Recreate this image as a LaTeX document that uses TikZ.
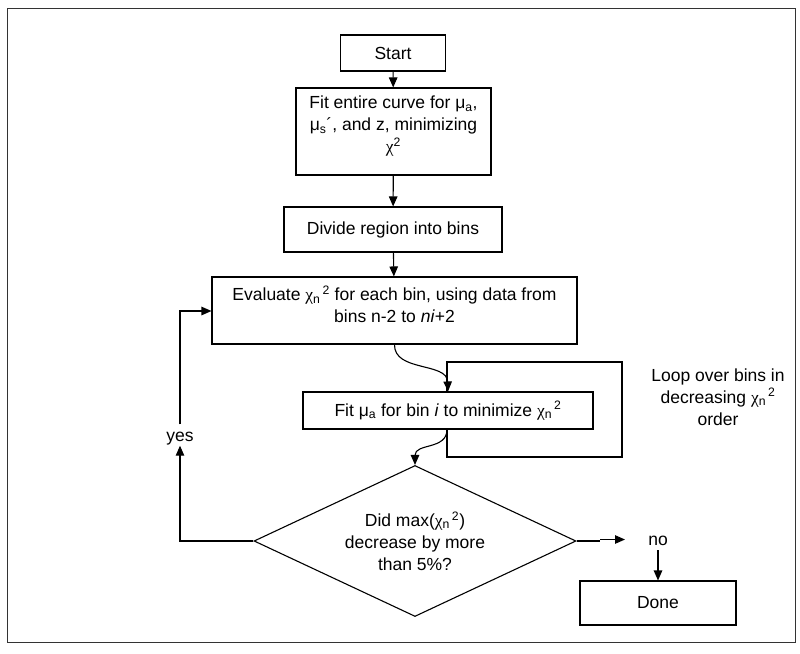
\documentclass[tikz,border=0pt]{standalone}
\usepackage{fontspec}
\setmainfont{Liberation Sans}
\newfontfamily\chifont{Liberation Serif}
\usetikzlibrary{arrows.meta,shapes.geometric}
\newcommand\chisym{{\chifont χ}}
\newcommand\chinsq{\chisym\textsubscript{n}\textsuperscript{\,2}}
\newcommand\mysub[1]{\textsubscript{#1}}
\begin{document}
\begin{tikzpicture}[x=1pt,y=-1pt,
  every node/.style={font=\fontsize{17.5}{22}\selectfont, inner sep=0pt},
  box/.style={draw, line width=1.1pt, align=center},
  conn/.style={line width=1.1pt, -{Triangle[length=10pt,width=8.5pt]}},
  plain/.style={line width=1.1pt}]
\useasboundingbox (0,0) rectangle (800,653);
\draw[line width=1pt, black!80] (7,8) rectangle (795,642);

\node[box, minimum width=105pt, minimum height=36pt] (start) at (393,53) {Start};
\node[box, minimum width=195pt, minimum height=87pt,
  label={[align=center, yshift=5pt]center:Fit entire curve for μ\mysub{a},\\ μ\mysub{s}´, and z, minimizing\\ \chisym\textsuperscript{2}}] (fit) at (393.5,131.5) {};
\node[box, minimum width=218pt, minimum height=45pt] (divide) at (393,229.5) {Divide region into bins};
\node[box, minimum width=365pt, minimum height=67pt,
  label={[align=center, yshift=6pt]center:Evaluate \chinsq{} for each bin, using data from\\ bins n-2 to \emph{ni}+2}] (eval) at (394.5,310.5) {};
\node[box, minimum width=290pt, minimum height=37pt] (fitmu) at (448,410.5) {Fit μ\mysub{a} for bin \emph{i} to minimize \chinsq};
\node[draw, line width=1.1pt, shape=diamond, aspect=2.13, minimum width=322pt, minimum height=151pt, align=center] (dec) at (415,541)
  {Did max(\chinsq)\\ decrease by more\\ than 5\%?};
\node[box, minimum width=156pt, minimum height=44pt] (done) at (658,603) {Done};

\node[align=center] (looplbl) at (718,397) {Loop over bins in\\ decreasing \chinsq\\ order};
\node (yes) at (180,439) {yes};
\node (no) at (658,541) {no};

\draw[conn] (start) -- (fit);
\draw[conn] (fit) -- (divide);
\draw[conn] (divide) -- (eval);
\draw[conn] (eval.south) .. controls (394,372) and (447,362) .. (fitmu.north);
\coordinate (lb) at (447,457);
\coordinate (rb) at (622,457);
\coordinate (rt) at (622,362);
\coordinate (lt) at (447,362);
\draw[plain] (fitmu.south -| lb) -- (lb) -- (rb) -- (rt) -- (lt) -- (fitmu.north -| lt);
\draw[conn] (fitmu.south -| lb) .. controls (447,450) and (415,443) .. (dec.north);

\coordinate (yl) at (180,541);
\draw[conn] (dec.west) -- (yl) -- (yes.south);
\coordinate (yt) at (180,311);
\draw[conn] (yes.north) ++(0,-8) -- (yt) -- (eval.west |- yt);

\coordinate (nj) at (600,541);
\coordinate (nj2) at (600,539.5);
\coordinate (ntip) at (625,539.5);
\draw[plain] (dec.east) -- (nj);
\draw[conn] (nj2) -- (ntip);
\draw[conn] (no.south) ++(0,4) -- (done.north);
\end{tikzpicture}
\end{document}
